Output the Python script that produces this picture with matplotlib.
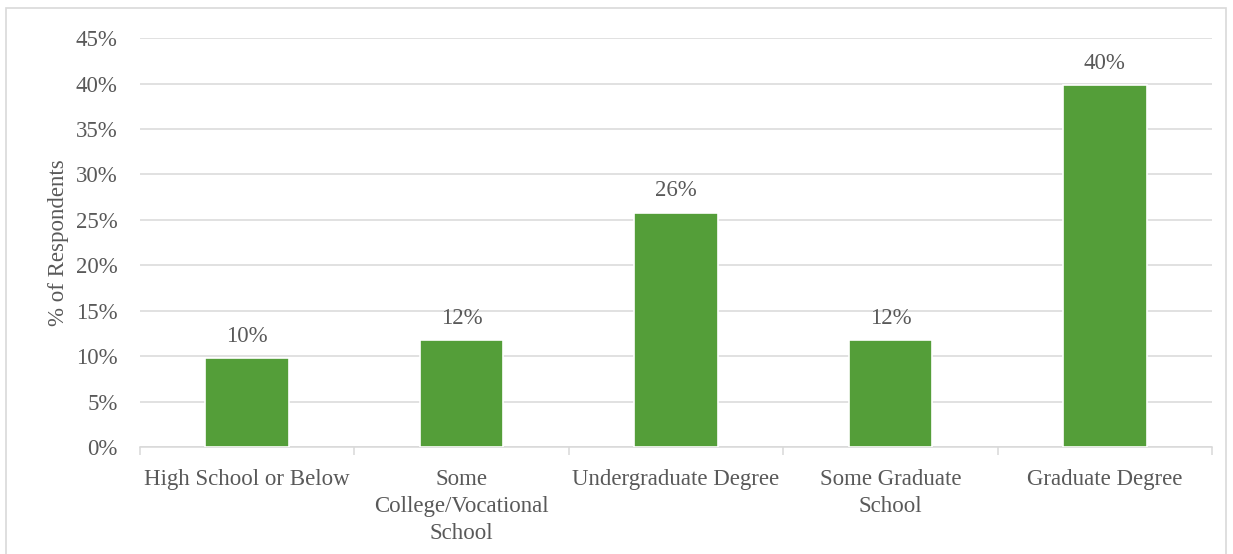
import matplotlib.pyplot as plt
from matplotlib.patches import Rectangle
from matplotlib.ticker import FuncFormatter, MultipleLocator

categories = ['High School or Below', 'Some\nCollege/Vocational\nSchool',
              'Undergraduate Degree', 'Some Graduate\nSchool', 'Graduate Degree']
shares = [0.098, 0.118, 0.258, 0.118, 0.398]

text_color = '#595959'
grid_color = '#d9d9d9'
bar_color = '#549e39'

plt.rcParams['font.family'] = ['Liberation Serif', 'DejaVu Serif']
plt.rcParams['font.size'] = 16.5

fig = plt.figure(figsize=(12.33, 5.54), dpi=100)
ax = fig.add_axes([0.1135, 0.193, 0.8695, 0.7383])

# light frame around the whole chart
fig.patches.append(Rectangle((6 / 1233, -0.05), 1220 / 1233, 1.05 - 8 / 554,
                             transform=fig.transFigure, fill=False,
                             edgecolor=grid_color, linewidth=1.2))

x = range(len(categories))
bars = ax.bar(x, shares, width=0.39, color=bar_color, edgecolor='white',
              linewidth=1.2, zorder=3)
for b, v in zip(bars, shares):
    ax.annotate(f'{v:.0%}', (b.get_x() + b.get_width() / 2, v),
                xytext=(0, 8), textcoords='offset points',
                ha='center', va='bottom', color=text_color)

ax.set_xlim(-0.5, len(categories) - 0.5)
ax.set_ylim(0, 0.45)
ax.yaxis.set_major_locator(MultipleLocator(0.05))
ax.yaxis.set_major_formatter(FuncFormatter(lambda v, _: f'{v:.0%}'))
ax.grid(axis='y', color=grid_color, linewidth=1.1, zorder=0)

ax.set_xticks(list(x))
ax.set_xticklabels(categories, color=text_color, linespacing=1.38)
ax.set_xticks([i - 0.5 for i in range(len(categories) + 1)], minor=True)
ax.tick_params(axis='x', which='major', length=0, pad=16)
ax.tick_params(axis='x', which='minor', length=6, color=grid_color, width=1.1)
ax.tick_params(axis='y', length=0, pad=16, labelcolor=text_color)

for side in ['top', 'right', 'left']:
    ax.spines[side].set_visible(False)
ax.spines['bottom'].set_color(grid_color)
ax.spines['bottom'].set_linewidth(1.1)

ax.set_ylabel('% of Respondents', color=text_color, labelpad=5)

plt.savefig('out.png', dpi=100)
